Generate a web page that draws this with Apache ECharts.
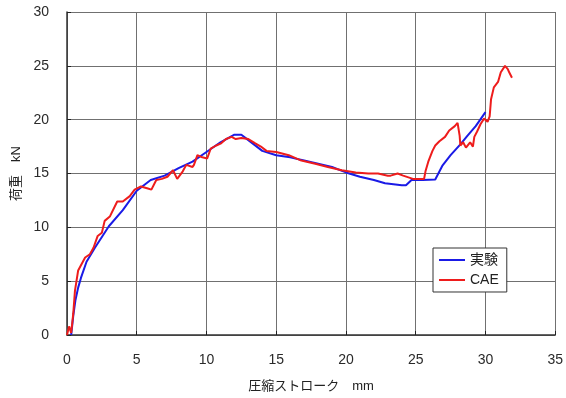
<!DOCTYPE html>
<html><head><meta charset="utf-8">
<script src="https://cdn.jsdelivr.net/npm/echarts@6/dist/echarts.min.js"></script>
<style>html,body{margin:0;padding:0;background:#fff}#c{width:566px;height:398px}</style>
</head><body><div id="c"></div>
<script>
// 実験 (experiment)
const expStroke = [0.3,0.45,0.6,0.8,1,1.4,2,3,4,5,6,7,8,9,10,11,12,12.5,13,14,15,16,17,18,19,20,21,22,22.8,24,24.3,24.7,25.5,26.4,26.9,27.5,28.2,28.7,29.3,30.0];
const expLoad   = [0,1.8,3.2,4.4,5.3,6.8,8.1,10.1,11.6,13.4,14.4,14.8,15.5,16.1,17.0,17.9,18.6,18.6,18.1,17.1,16.7,16.5,16.2,15.9,15.6,15.1,14.7,14.4,14.1,13.9,13.9,14.4,14.4,14.45,15.7,16.7,17.7,18.5,19.4,20.7];
// CAE
const caeStroke = [0,0.15,0.3,0.45,0.57,0.8,1.3,1.64,1.9,2.2,2.5,2.7,3.07,3.6,4.0,4.5,4.85,5.3,5.8,6.05,6.4,6.8,7.2,7.6,7.9,8.3,8.55,9.0,9.1,9.35,9.7,10.05,10.3,10.7,11.05,11.4,11.8,12.1,12.5,13.0,13.5,13.9,14.3,15.0,15.9,16.8,17.8,18.7,19.7,20.7,21.6,22.3,23.0,23.2,23.7,24.1,24.8,25.6,25.7,25.9,26.2,26.4,26.7,27.1,27.4,27.8,28.0,28.15,28.2,28.4,28.6,28.9,29.1,29.2,29.4,29.65,29.9,30.15,30.3,30.4,30.6,30.9,31.1,31.4,31.6,31.7,31.9];
const caeLoad   = [0,0.8,0.2,2.0,4.1,6.0,7.2,7.5,8.1,9.2,9.5,10.6,11.0,12.4,12.4,12.9,13.5,13.8,13.6,13.5,14.4,14.5,14.7,15.3,14.5,15.2,15.8,15.6,15.8,16.7,16.5,16.4,17.3,17.6,17.8,18.2,18.4,18.2,18.3,18.2,17.8,17.5,17.1,17.0,16.7,16.2,15.9,15.6,15.3,15.1,15.0,15.0,14.8,14.8,15.0,14.8,14.5,14.5,15.2,16.1,17.1,17.6,18.0,18.4,19.0,19.4,19.7,18.5,17.6,17.9,17.4,17.9,17.5,18.4,18.9,19.6,20.1,19.8,20.3,21.9,23.0,23.5,24.4,25.0,24.7,24.4,23.9];
const xTicks = [0,5,10,15,20,25,30,35];
const yTicks = [0,5,10,15,20,25,30];

const zip = (a,b)=>a.map((v,i)=>[v,b[i]]);
const font = '"Liberation Sans","Noto Sans CJK JP",Arial,sans-serif';
const chart = echarts.init(document.getElementById('c'), null, {renderer:'canvas'});
const axisCommon = {
  type:'value',
  axisLine:{show:true,lineStyle:{color:'#333',width:1.5}},
  axisTick:{show:true,inside:true,length:4,lineStyle:{color:'#222'}},
  splitLine:{show:true,lineStyle:{color:'#707070',width:1}},
  axisLabel:{color:'#2a2a2a',fontSize:14,fontFamily:font,margin:18},
  nameLocation:'middle',
  nameTextStyle:{color:'#222',fontSize:13,fontFamily:font}
};
chart.setOption({
  animation:false,
  backgroundColor:'#fff',
  grid:{left:67,right:8,top:12,bottom:60,containLabel:false},
  xAxis:Object.assign({},axisCommon,{min:xTicks[0],max:xTicks[xTicks.length-1],interval:5,
    name:'圧縮ストローク　mm',nameGap:45}),
  yAxis:Object.assign({},axisCommon,{min:yTicks[0],max:yTicks[yTicks.length-1],interval:5,
    name:'荷重　kN',nameGap:39}),
  legend:{
    orient:'vertical',left:433,top:248,
    backgroundColor:'#fff',borderColor:'#333',borderWidth:1,
    padding:[5,8,5,6],itemGap:6,itemWidth:26,itemHeight:2,
    textStyle:{color:'#222',fontSize:14,fontFamily:font},
    data:[{name:'実験',icon:'rect'},{name:'CAE',icon:'rect'}]
  },
  series:[
    {name:'実験',type:'line',data:zip(expStroke,expLoad),showSymbol:false,symbol:'none',
     lineStyle:{color:'#1a1ae6',width:2},itemStyle:{color:'#1a1ae6'},z:2},
    {name:'CAE',type:'line',data:zip(caeStroke,caeLoad),showSymbol:false,symbol:'none',
     lineStyle:{color:'#ee1c1c',width:2},itemStyle:{color:'#ee1c1c'},z:3}
  ]
});
</script></body></html>
